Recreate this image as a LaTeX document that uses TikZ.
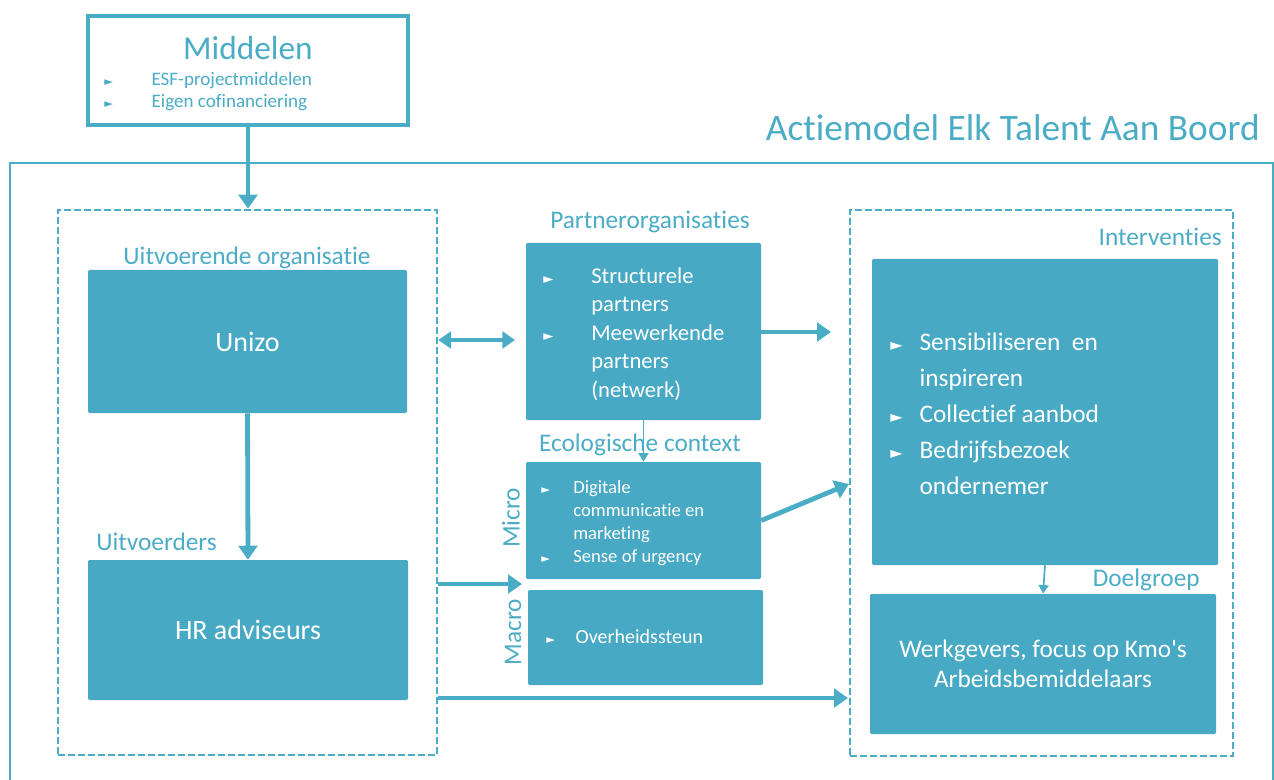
\documentclass[tikz,border=0pt]{standalone}
\usepackage{fontspec}
\setmainfont{Carlito}[Ligatures={NoCommon,TeXOff}]
\newfontfamily\dejavu{DejaVu Sans}
\usetikzlibrary{arrows.meta}
\definecolor{tb}{HTML}{4BACC6}
\definecolor{tf}{HTML}{48A9C4}
\newcommand{\fs}[2]{\fontsize{#1}{#2}\selectfont}
\newcommand{\tri}[2]{\makebox[#2][l]{{\dejavu\fontsize{#1}{#1}\selectfont ►}}}
\begin{document}
\begin{tikzpicture}[x=0.75pt,y=-0.75pt,
  box/.style={fill=tf, draw=none, inner sep=0, rounded corners=1pt},
  lbl/.style={text=tb, inner sep=0, font=\fs{19pt}{22pt}},
  wtxt/.style={text=white, inner sep=0, align=left},
  dbox/.style={draw=tb, dash pattern=on 5pt off 2.5pt, line width=2pt, inner sep=0},
  bigarrow/.style={draw=tb, line width=3.6pt, -{Triangle[length=10.5pt,width=14pt]}},
  dblarrow/.style={draw=tb, line width=3.2pt, {Triangle[length=9.5pt,width=12.5pt]}-{Triangle[length=9.5pt,width=12.5pt]}},
  thinarrow/.style={draw=tb, line width=1.3pt, -{Triangle[length=6.5pt,width=7.5pt]}},
]
\useasboundingbox (0,0) rectangle (1274,780);
% outer frame
\node[draw=tb, line width=1.3pt, inner sep=0, minimum width=947.25pt, minimum height=470.25pt] (frame) at (641.5,476.5) {};
\node[text=tb, inner sep=0, anchor=east, font=\fs{28pt}{31pt}] (title) at (1260,128) {Actiemodel Elk Talent Aan Boord};
% Middelen
\node[draw=tb, fill=white, line width=3pt, inner sep=0, minimum width=240pt, minimum height=81.75pt] (mid) at (248,70.5) {};
\node[text=tb, inner sep=0, font=\fs{25pt}{28pt}] (midt) at (248,48) {Middelen};
\node[text=tb, inner sep=0, anchor=west, align=left, font=\fs{14.3pt}{17pt}] (midb) at (104,91.5)
  {\tri{8.5pt}{35.5pt}ESF-projectmiddelen\\ \tri{8.5pt}{35.5pt}Eigen cofinanciering};
% left dashed group
\node[dbox, minimum width=284.25pt, minimum height=408.75pt] (exec) at (247.5,482.5) {};
\node[lbl] (lorg) at (247,258) {Uitvoerende organisatie};
\node[box, minimum width=239.25pt, minimum height=107.25pt, text=white, font=\fs{21pt}{24pt}] (unizo) at (247.5,341.5) {Unizo};
\node[lbl, anchor=west] (luitv) at (96,542) {Uitvoerders};
\node[box, minimum width=240pt, minimum height=105pt, text=white, font=\fs{21pt}{24pt}] (hr) at (248,630) {HR adviseurs};
% middle column
\node[lbl] (lpart) at (650,222) {Partnerorganisaties};
\node[box, minimum width=176.25pt, minimum height=132.75pt] (partner) at (643.5,331.5) {};
\node[wtxt, anchor=west, font=\fs{17pt}{21.4pt}] (partnert) at (543,334)
  {\tri{10pt}{36pt}Structurele\\ \hspace*{36pt}partners\\ \tri{10pt}{36pt}Meewerkende\\ \hspace*{36pt}partners\\ \hspace*{36pt}(netwerk)};
\node[lbl] (leco) at (640,445) {Ecologische context};
\node[box, minimum width=176.25pt, minimum height=87.75pt] (micro) at (643.5,520.5) {};
\node[wtxt, anchor=west, font=\fs{14pt}{17.2pt}] (microt) at (541,523)
  {\tri{8.5pt}{24pt}Digitale\\ \hspace*{24pt}communicatie en\\ \hspace*{24pt}marketing\\ \tri{8.5pt}{24pt}Sense of urgency};
\node[lbl, rotate=90] (lmicro) at (511,518) {Micro};
\node[box, minimum width=176.25pt, minimum height=71.25pt] (macro) at (645.5,637.5) {};
\node[wtxt, anchor=west, font=\fs{15pt}{18pt}] (macrot) at (546,637) {\tri{8.5pt}{22pt}Overheidssteun};
\node[lbl, rotate=90] (lmacro) at (513,632) {Macro};
% right dashed group
\node[dbox, minimum width=287.25pt, minimum height=409.5pt] (interv) at (1041.5,483) {};
\node[lbl, anchor=east] (lint) at (1222,237) {Interventies};
\node[box, minimum width=259.5pt, minimum height=229.5pt] (intbox) at (1045,412) {};
\node[wtxt, anchor=west, font=\fs{19pt}{27pt}] (intt) at (890,414)
  {\tri{12pt}{22pt}Sensibiliseren\ \ en\\ \hspace*{22pt}inspireren\\ \tri{12pt}{22pt}Collectief aanbod\\ \tri{12pt}{22pt}Bedrijfsbezoek\\ \hspace*{22pt}ondernemer};
\node[lbl, anchor=east] (ldoel) at (1200,580) {Doelgroep};
\node[box, minimum width=259.5pt, minimum height=105pt, text=white, align=center, font=\fs{19pt}{22.5pt}] (doel) at (1043,664)
  {Werkgevers, focus op Kmo's\\Arbeidsbemiddelaars};
% connectors
\coordinate (dA) at (515,340);
\coordinate (pB) at (831,332);
\coordinate (gC) at (522,584);
\coordinate (iE) at (849,484);
\coordinate (iF) at (848,698);
\draw[bigarrow] (mid.south) -- (mid.south |- exec.north);
\draw[bigarrow] (unizo.south) -- (hr.north);
\draw[dblarrow] (exec.east |- dA) -- (dA);
\draw[bigarrow] (partner.east |- pB) -- (pB);
\draw[thinarrow] (partner.south) -- (micro.north);
\draw[bigarrow] (exec.east |- gC) -- (gC);
\draw[bigarrow] (micro.east) -- (iE);
\draw[bigarrow] (exec.east |- iF) -- (iF);
\draw[thinarrow] (intbox.south) -- (doel.north);
\end{tikzpicture}
\end{document}
